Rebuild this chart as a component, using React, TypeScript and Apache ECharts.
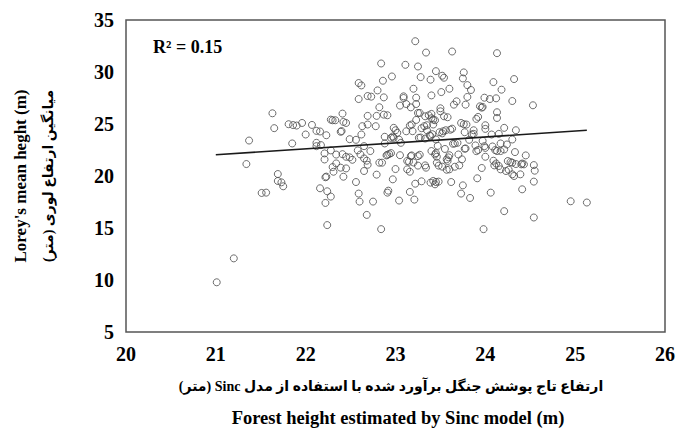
import React, { useEffect, useRef } from "react";
import * as echarts from "echarts";

// Estimated (Sinc model) forest height, m
const estHeight: number[] = [
  21.01, 21.2, 21.37, 21.34, 21.51, 21.56, 21.69, 21.69, 21.73, 21.75, 21.63, 21.65, 21.81, 21.85, 21.9, 21.96, 22.0, 22.07, 22.12, 22.16,
  22.12, 22.12, 22.17, 22.23, 22.21, 22.21, 22.28, 22.3, 22.39, 22.4, 22.41, 22.42, 22.45, 22.33, 22.28, 22.22, 22.23, 22.16, 22.24, 22.28,
  22.22, 22.24, 22.3, 22.34, 22.31, 22.39, 22.45, 22.42, 22.45, 22.49, 22.52, 22.49, 22.56, 22.58, 22.56, 22.59, 22.6, 22.59, 22.59, 22.62,
  22.62, 22.63, 22.65, 22.61, 22.65, 22.68, 22.69, 22.65, 22.68, 22.69, 22.69, 22.69, 22.73, 22.75, 22.78, 22.8, 22.82, 22.79, 22.79, 22.82,
  22.85, 22.84, 22.84, 22.86, 22.87, 22.87, 22.91, 22.88, 22.88, 22.9, 22.93, 22.91, 22.91, 22.92, 22.96, 22.95, 22.98, 22.98, 23.0, 22.97,
  23.0, 23.02, 23.04, 23.06, 23.05, 23.04, 23.09, 23.09, 23.11, 23.12, 23.13, 23.15, 23.13, 23.16, 23.16, 23.17, 23.18, 23.18, 23.16, 23.19,
  23.2, 23.21, 23.22, 23.22, 23.23, 23.23, 23.23, 23.25, 23.25, 23.27, 23.26, 23.28, 23.25, 23.27, 23.28, 23.29, 23.29, 23.32, 23.35, 23.33,
  23.33, 23.34, 23.34, 23.37, 23.4, 23.39, 23.39, 23.4, 23.4, 23.41, 23.39, 23.42, 23.44, 23.42, 23.42, 23.44, 23.45, 23.45, 23.45, 23.44,
  23.46, 23.46, 23.48, 23.47, 23.49, 23.5, 23.5, 23.51, 23.52, 23.53, 23.52, 23.54, 23.54, 23.56, 23.57, 23.58, 23.59, 23.6, 23.6, 23.62,
  23.61, 23.63, 23.63, 23.65, 23.66, 23.66, 23.68, 23.69, 23.7, 23.71, 23.73, 23.73, 23.76, 23.74, 23.75, 23.75, 23.76, 23.77, 23.78, 23.77,
  23.78, 23.8, 23.8, 23.79, 23.82, 23.83, 23.84, 23.85, 23.87, 23.87, 23.89, 23.9, 23.92, 23.91, 23.9, 23.94, 23.96, 23.97, 23.96, 23.97,
  23.99, 23.98, 24.0, 24.0, 24.0, 23.99, 24.05, 24.06, 24.07, 24.08, 24.09, 24.09, 24.1, 24.11, 24.12, 24.13, 24.13, 24.13, 24.15, 24.15,
  24.17, 24.18, 24.17, 24.21, 24.21, 24.21, 24.23, 24.24, 24.25, 24.28, 24.3, 24.3, 24.3, 24.3, 24.32, 24.32, 24.34, 24.33, 24.34, 24.39,
  24.4, 24.43, 24.41, 24.45, 24.53, 24.54, 24.55, 24.54, 24.54, 24.95, 25.13,
  23.17, 23.58, 23.33, 23.38, 22.97, 23.64, 24.0, 24.13, 24.17, 23.92, 23.4, 23.45, 23.55, 23.6, 23.48, 23.52, 23.57, 23.2, 23.25, 24.12,
  24.26, 24.41, 23.12, 23.35, 23.05, 22.95, 21.86, 22.72, 22.34, 22.41
];

// Lorey's mean height, m
const loreyHeight: number[] = [
  9.78, 12.08, 23.41, 21.15, 18.37, 18.4, 20.19, 19.52, 19.39, 19.01, 26.03, 24.6, 24.98, 23.13, 24.85, 25.1, 23.99, 24.91, 24.34, 24.28,
  23.19, 22.87, 22.97, 23.92, 22.17, 21.59, 25.42, 25.36, 24.25, 24.32, 26.0, 25.2, 25.1, 25.36, 22.46, 19.88, 19.94, 18.82, 18.53, 18.02,
  17.41, 15.28, 20.86, 21.21, 20.41, 20.8, 20.73, 19.93, 21.85, 21.79, 21.56, 23.54, 23.48, 22.46, 19.42, 18.31, 17.54, 27.4, 28.94, 28.71,
  23.99, 24.79, 22.87, 22.07, 21.69, 21.47, 21.08, 20.48, 16.26, 25.78, 24.95, 27.69, 27.63, 17.54, 24.79, 28.23, 26.61, 25.78, 20.13, 21.28,
  21.28, 30.82, 14.89, 29.16, 27.56, 25.9, 25.84, 23.77, 23.13, 21.98, 22.11, 22.04, 18.4, 18.59, 29.57, 23.67, 23.67, 24.63, 24.4, 19.68,
  20.67, 24.15, 23.5, 23.19, 26.77, 17.64, 27.66, 27.5, 30.69, 26.92, 21.44, 21.37, 20.64, 20.41, 18.47, 21.91, 21.98, 24.95, 24.85, 24.31,
  28.39, 17.73, 32.96, 19.26, 25.39, 27.53, 26.92, 30.53, 26.06, 26.06, 23.67, 23.7, 21.91, 22.04, 29.51, 24.6, 19.49, 24.79, 24.88, 25.74,
  21.02, 20.8, 31.87, 25.84, 25.97, 29.26, 19.36, 27.75, 25.55, 24.02, 23.83, 25.42, 25.36, 24.95, 19.52, 19.2, 19.42, 30.08, 23.51, 22.07,
  21.85, 21.28, 19.46, 22.9, 24.21, 26.51, 26.22, 28.07, 24.1, 24.3, 29.64, 29.45, 25.74, 24.4, 21.6, 21.44, 21.79, 28.39, 20.64, 19.42,
  24.45, 24.55, 31.97, 26.86, 23.13, 20.89, 27.18, 23.19, 22.07, 21.02, 18.31, 25.1, 24.98, 21.6, 29.38, 19.1, 29.96, 22.62, 22.65, 24.21,
  26.86, 28.74, 27.6, 24.95, 23.48, 17.89, 28.27, 23.99, 24.05, 24.4, 22.94, 25.49, 25.68, 19.78, 22.39, 26.7, 26.57, 26.64, 20.77, 23.38,
  22.87, 14.89, 24.53, 21.85, 24.88, 27.53, 27.4, 18.4, 23.99, 22.84, 21.47, 29.03, 21.02, 22.49, 27.47, 31.81, 26.13, 25.58, 24.05, 20.96,
  23.13, 28.3, 20.64, 16.62, 24.63, 22.55, 20.48, 23.03, 21.44, 21.34, 21.28, 27.21, 23.51, 20.16, 20.0, 29.32, 24.4, 22.3, 21.15, 20.16,
  21.12, 21.12, 18.72, 21.98, 26.8, 21.05, 20.51, 19.46, 16.01, 17.57, 17.45,
  26.6, 25.65, 23.6, 23.9, 23.8, 23.1, 22.7, 22.4, 22.4, 22.5, 22.4, 22.2, 22.6, 22.0, 21.0, 20.9, 20.6, 21.3, 21.0, 21.2,
  20.6, 21.2, 24.3, 24.4, 22.0, 22.2, 24.9, 22.4, 22.06, 22.1
];

// Linear trend line end points
const trendX: number[] = [21.0, 25.13];
const trendY: number[] = [22.04, 24.4];

const xTicks = { min: 20, max: 26, interval: 1 };
const yTicks = { min: 5, max: 35, interval: 5 };

const RLE = "\u202B";
const PDF = "\u202C";
const r2Label = "R² = 0.15";
const xTitleFa = "ارتفاع تاج پوشش جنگل برآورد شده با استفاده از مدل Sinc (متر)";
const xTitleEn = "Forest height estimated by Sinc model (m)";
const yTitleEn = "Lorey's mean heght (m)";
const yTitleFa = "میانگین ارتفاع لوری (متر)";

const SERIF = "'Liberation Serif', 'Times New Roman', 'DejaVu Serif', serif";
const FA = "'Liberation Serif', 'DejaVu Sans', 'Noto Sans', serif";

export default function App() {
  const ref = useRef<HTMLDivElement>(null);
  useEffect(() => {
    if (!ref.current) return;
    const chart = echarts.init(ref.current, undefined, { renderer: "svg" });
    const pts = estHeight.map((x, i) => [x, loreyHeight[i]]);
    const trend = trendX.map((x, i) => [x, trendY[i]]);
    chart.setOption({
      animation: false,
      backgroundColor: "#fff",
      grid: {
        left: 126,
        right: 11,
        top: 20,
        bottom: 98,
        show: true,
        borderColor: "#555",
        borderWidth: 1.5,
        backgroundColor: "transparent",
      },
      xAxis: {
        type: "value",
        min: xTicks.min,
        max: xTicks.max,
        interval: xTicks.interval,
        splitLine: { show: false },
        axisTick: { show: false },
        axisLine: { show: false },
        axisLabel: {
          margin: 12,
          color: "#000",
          fontFamily: SERIF,
          fontWeight: "bold",
          fontSize: 20,
        },
      },
      yAxis: {
        type: "value",
        min: yTicks.min,
        max: yTicks.max,
        interval: yTicks.interval,
        splitLine: { show: false },
        axisTick: { show: false },
        axisLine: { show: false },
        axisLabel: {
          margin: 12,
          color: "#000",
          fontFamily: SERIF,
          fontWeight: "bold",
          fontSize: 20,
        },
      },
      series: [
        {
          type: "scatter",
          data: pts,
          symbol: "circle",
          symbolSize: 7,
          itemStyle: { color: "rgba(255,255,255,0)", borderColor: "#4a4a4a", borderWidth: 1 },
          z: 2,
        },
        {
          type: "line",
          data: trend,
          symbol: "none",
          lineStyle: { color: "#1a1a1a", width: 1.6 },
          z: 3,
        },
      ],
      graphic: [
        {
          type: "text",
          left: 153,
          top: 38,
          style: { text: r2Label, fontFamily: SERIF, fontWeight: "bold", fontSize: 18, fill: "#000" },
        },
        {
          type: "text",
          x: 20,
          y: 176,
          rotation: Math.PI / 2,
          style: {
            text: yTitleEn,
            fontFamily: SERIF,
            fontWeight: "bold",
            fontSize: 17,
            fill: "#000",
            align: "center",
            verticalAlign: "middle",
          },
        },
        {
          type: "text",
          x: 48,
          y: 176,
          rotation: Math.PI / 2,
          style: {
            text: RLE + yTitleFa + PDF,
            fontFamily: FA,
            fontWeight: "bold",
            fontSize: 14,
            fill: "#000",
            align: "center",
            verticalAlign: "middle",
          },
        },
        {
          type: "text",
          x: 391,
          y: 386,
          style: {
            text: RLE + xTitleFa + PDF,
            fontFamily: FA,
            fontWeight: "bold",
            fontSize: 14,
            fill: "#000",
            align: "center",
            verticalAlign: "middle",
          },
        },
        {
          type: "text",
          x: 398,
          y: 418,
          style: {
            text: xTitleEn,
            fontFamily: SERIF,
            fontWeight: "bold",
            fontSize: 18.5,
            fill: "#000",
            align: "center",
            verticalAlign: "middle",
          },
        },
      ],
    });
    return () => chart.dispose();
  }, []);
  return (
    <div
      ref={ref}
      style={{ position: "fixed", left: 0, top: 0, width: 678, height: 430 }}
    />
  );
}
